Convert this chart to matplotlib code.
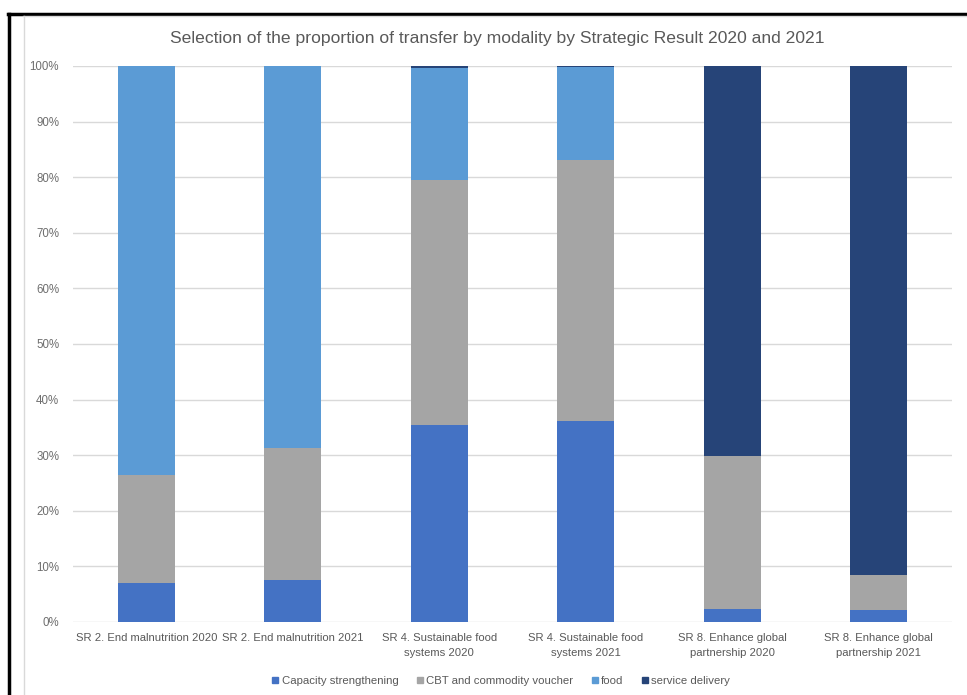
import matplotlib
matplotlib.use("Agg")
import matplotlib.pyplot as plt
from matplotlib.lines import Line2D
import numpy as np

categories = ["SR 2. End malnutrition 2020", "SR 2. End malnutrition 2021",
              "SR 4. Sustainable food\nsystems 2020", "SR 4. Sustainable food\nsystems 2021",
              "SR 8. Enhance global\npartnership 2020", "SR 8. Enhance global\npartnership 2021"]
capacity = [7.0, 7.5, 35.4, 36.2, 2.3, 2.2]
cbt = [19.4, 23.8, 44.1, 46.9, 27.6, 6.3]
food = [73.6, 68.7, 20.1, 16.7, 0.0, 0.0]
service = [0.0, 0.0, 0.4, 0.2, 70.1, 91.5]
series_names = ["Capacity strengthening", "CBT and commodity voucher", "food", "service delivery"]
colors = ["#4472C4", "#A5A5A5", "#5B9BD5", "#264478"]

plt.rcParams['font.family'] = ['Liberation Sans', 'DejaVu Sans']

fig = plt.figure(figsize=(9.67, 6.95), dpi=100)
W, H = 967, 695
ax = fig.add_axes([73 / W, 1 - 622 / H, (952 - 73) / W, (622 - 66) / H])

x = np.arange(len(categories))
bottom = np.zeros(len(categories))
for name, vals, c in zip(series_names, [capacity, cbt, food, service], colors):
    v = np.array(vals)
    ax.bar(x, v, 0.39, bottom=bottom, color=c, label=name, zorder=3)
    bottom += v

ax.set_xlim(-0.5, len(categories) - 0.5)
ax.set_ylim(0, 100)
ax.set_yticks(np.arange(0, 101, 10))
ax.set_yticklabels([f"{t}%" for t in range(0, 101, 10)], color="#6E6E6E", fontsize=8.3)
ax.set_xticks(x)
ax.set_xticklabels(categories, color="#595959", fontsize=8.1, linespacing=1.6)
ax.tick_params(axis='both', length=0)
ax.tick_params(axis='y', pad=10)
ax.tick_params(axis='x', pad=8)
ax.grid(axis='y', color="#D9D9D9", linewidth=1, zorder=0)
for s in ax.spines.values():
    s.set_visible(False)

fig.text(497 / W, 1 - 38 / H, "Selection of the proportion of transfer by modality by Strategic Result 2020 and 2021",
         ha='center', va='center', fontsize=12.6, color="#595959")

handles = [Line2D([0], [0], marker='s', linestyle='none', markersize=5, color=c) for c in colors]
fig.legend(handles, series_names, loc='center', bbox_to_anchor=(500 / W, 1 - 681 / H), ncol=4,
           frameon=False, fontsize=8.2, labelcolor="#595959", handletextpad=0.05, columnspacing=1.4,
           handlelength=1.0)

# screenshot frame lines
fig.add_artist(Line2D([8 / W, 1], [1 - 13.5 / H, 1 - 13.5 / H], color='black', linewidth=2.5, transform=fig.transFigure))
fig.add_artist(Line2D([9 / W, 9 / W], [0, 1 - 13.5 / H], color='black', linewidth=2.5, transform=fig.transFigure))
fig.add_artist(Line2D([23 / W, 1], [1 - 16 / H, 1 - 16 / H], color='#D9D9D9', linewidth=1, transform=fig.transFigure))
fig.add_artist(Line2D([23.5 / W, 23.5 / W], [0, 1 - 16 / H], color='#D9D9D9', linewidth=1, transform=fig.transFigure))

fig.savefig("out.png", dpi=100)
